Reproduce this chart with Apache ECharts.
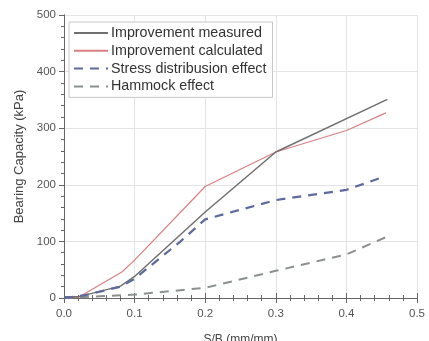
<!DOCTYPE html>
<html><head><meta charset="utf-8">
<script src="https://cdn.jsdelivr.net/npm/echarts@6/dist/echarts.min.js"></script>
<style>html,body{margin:0;padding:0;background:#fff}#c{width:429px;height:341px}</style>
</head><body><div id="c"></div>
<script>
const seriesNames = ['Improvement measured','Improvement calculated','Stress distribusion effect','Hammock effect'];
const measuredX = [0, 0.02, 0.08, 0.1, 0.2, 0.3, 0.458];
const measuredY = [2, 2, 21, 38, 152, 258, 351];
const calculatedX = [0, 0.02, 0.082, 0.1, 0.2, 0.3, 0.4, 0.456];
const calculatedY = [0, 1, 46, 67, 197, 258, 296, 327];
const stressX = [0, 0.03, 0.08, 0.1, 0.165, 0.2, 0.3, 0.4, 0.455];
const stressY = [0, 5, 20, 34, 100, 139, 173, 191, 215];
const hammockX = [0, 0.05, 0.1, 0.2, 0.3, 0.4, 0.455];
const hammockY = [0, 3, 6, 18, 48, 77, 107];
const xTicks = [0, 0.1, 0.2, 0.3, 0.4, 0.5];
const yTicks = [0, 100, 200, 300, 400, 500];

const pair = (xs, ys) => xs.map((x, i) => [x, ys[i]]);
const font = 'Liberation Sans';
const chart = echarts.init(document.getElementById('c'), null, {renderer: 'canvas'});
const axisColor = '#666';
chart.setOption({
  animation: false,
  backgroundColor: '#fff',
  grid: {left: 64, right: 12, top: 15, bottom: 43, containLabel: false, outerBoundsMode: 'none'},
  legend: {
    orient: 'vertical', left: 69, top: 22, itemWidth: 34, itemHeight: 10, itemGap: 3.8,
    padding: [4, 6, 4, 4],
    borderColor: '#c8c8c8', borderWidth: 1, backgroundColor: '#fff',
    itemStyle: {opacity: 0},
    textStyle: {fontFamily: font, fontSize: 14.3, color: '#333', padding: [0, 0, 0, -2]},
    data: seriesNames
  },
  xAxis: [{
    type: 'value', min: xTicks[0], max: xTicks[xTicks.length - 1], interval: 0.1,
    name: 'S/B (mm/mm)', nameLocation: 'middle', nameGap: 36,
    nameTextStyle: {fontFamily: font, fontSize: 12, color: '#444'},
    axisLine: {show: true, lineStyle: {color: axisColor, width: 1}},
    axisTick: {show: true, inside: true, length: 5, lineStyle: {color: axisColor}},
    minorTick: {show: true, splitNumber: 5, length: 3, lineStyle: {color: axisColor}},
    axisLabel: {fontFamily: font, fontSize: 11.5, color: '#555', margin: 10, formatter: v => v.toFixed(1)},
    splitLine: {show: true, lineStyle: {color: '#e4e4e4'}}
  }, {
    type: 'value', position: 'top', min: 0, max: 0.5, interval: 0.1,
    axisLine: {show: true, lineStyle: {color: axisColor}},
    axisTick: {show: true, inside: true, length: 5, lineStyle: {color: axisColor}},
    minorTick: {show: true, splitNumber: 5, length: 3, lineStyle: {color: axisColor}},
    axisLabel: {show: false}, splitLine: {show: false}
  }],
  yAxis: [{
    type: 'value', min: yTicks[0], max: yTicks[yTicks.length - 1], interval: 100,
    name: 'Bearing Capacity (kPa)', nameLocation: 'middle', nameGap: 32,
    nameTextStyle: {fontFamily: font, fontSize: 13, color: '#444'},
    axisLine: {show: true, lineStyle: {color: axisColor, width: 1}},
    axisTick: {show: true, inside: false, length: 5, lineStyle: {color: axisColor}},
    minorTick: {show: true, splitNumber: 5, length: 3, lineStyle: {color: axisColor}},
    axisLabel: {fontFamily: font, fontSize: 11.5, color: '#555', margin: 8},
    splitLine: {show: true, lineStyle: {color: '#e4e4e4'}}
  }, {
    type: 'value', position: 'right', min: 0, max: 500, interval: 100,
    axisLine: {show: true, lineStyle: {color: axisColor}},
    axisTick: {show: true, inside: true, length: 5, lineStyle: {color: axisColor}},
    minorTick: {show: true, splitNumber: 5, length: 3, lineStyle: {color: axisColor}},
    axisLabel: {show: false}, splitLine: {show: false}
  }],
  series: [
    {name: seriesNames[0], type: 'line', data: pair(measuredX, measuredY), symbol: 'none', z: 4,
     lineStyle: {color: '#707070', width: 1.5}, itemStyle: {color: '#707070'}},
    {name: seriesNames[1], type: 'line', data: pair(calculatedX, calculatedY), symbol: 'none', z: 3,
     lineStyle: {color: '#d97f82', width: 1.2}, itemStyle: {color: '#d97f82'}},
    {name: seriesNames[2], type: 'line', data: pair(stressX, stressY), symbol: 'none', z: 5,
     lineStyle: {color: '#5c6a9e', width: 2.2, type: [9, 7]}, itemStyle: {color: '#5c6a9e'}},
    {name: seriesNames[3], type: 'line', data: pair(hammockX, hammockY), symbol: 'none', z: 2,
     lineStyle: {color: '#8a918c', width: 2, type: [9, 7]}, itemStyle: {color: '#8a918c'}}
  ]
});
</script></body></html>
